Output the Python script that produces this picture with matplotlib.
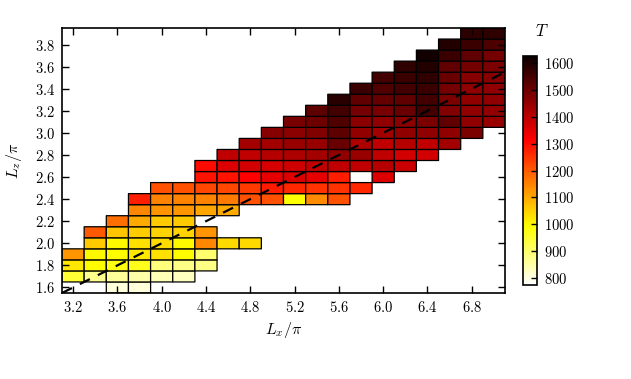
import numpy as np
import matplotlib
matplotlib.use("Agg")
import matplotlib.pyplot as plt
from matplotlib.ticker import FuncFormatter

plt.rcParams['mathtext.fontset'] = 'cm'
plt.rcParams['font.family'] = 'serif'
plt.rcParams['font.serif'] = ['DejaVu Serif']

N = np.nan

# cell centres
lx = [3.2, 3.4, 3.6, 3.8, 4.0, 4.2, 4.4, 4.6, 4.8, 5.0,
      5.2, 5.4, 5.6, 5.8, 6.0, 6.2, 6.4, 6.6, 6.8, 7.0]
lz = [1.6, 1.7, 1.8, 1.9, 2.0, 2.1, 2.2, 2.3, 2.4, 2.5, 2.6, 2.7,
      2.8, 2.9, 3.0, 3.1, 3.2, 3.3, 3.4, 3.5, 3.6, 3.7, 3.8, 3.9]

# T per row (bottom row first), one value per Lx column
T = [
    [N, N, 805, 805, N, N, N, N, N, N, N, N, N, N, N, N, N, N, N, N],
    [945, 872, 864, 850, 835, 830, N, N, N, N, N, N, N, N, N, N, N, N, N, N],
    [1023, 997, 980, 970, 885, 880, 880, N, N, N, N, N, N, N, N, N, N, N, N, N],
    [1124, 1000, 995, 1020, 1030, 995, 898, N, N, N, N, N, N, N, N, N, N, N, N, N],
    [N, 1060, 1000, 1030, 1035, 1000, 1145, 1040, 1040, N, N, N, N, N, N, N, N, N, N, N],
    [N, 1200, 1065, 1055, 1050, 1050, 1125, N, N, N, N, N, N, N, N, N, N, N, N, N],
    [N, N, 1175, 1100, 1060, 1060, N, N, N, N, N, N, N, N, N, N, N, N, N, N],
    [N, N, N, 1145, 1130, 1125, 1105, 1100, N, N, N, N, N, N, N, N, N, N, N, N],
    [N, N, N, 1275, 1150, 1150, 1150, 1160, 1213, 1213, 990, 1137, 1213, N, N, N, N, N, N, N],
    [N, N, N, N, 1213, 1213, 1225, 1225, 1240, 1280, 1265, 1252, 1252, 1264, N, N, N, N, N, N],
    [N, N, N, N, N, N, 1290, 1290, 1315, 1345, 1357, 1345, 1277, N, 1357, N, N, N, N, N],
    [N, N, N, N, N, N, 1302, 1357, 1370, 1365, 1375, 1394, 1394, 1394, 1406, 1382, N, N, N, N],
    [N, N, N, N, N, N, N, 1394, 1394, 1406, 1418, 1430, 1455, 1443, 1394, 1370, 1370, N, N, N],
    [N, N, N, N, N, N, N, N, 1430, 1430, 1443, 1443, 1503, 1418, 1394, 1406, 1394, 1430, N, N],
    [N, N, N, N, N, N, N, N, N, 1467, 1460, 1473, 1520, 1450, 1430, 1455, 1455, 1455, 1479, N],
    [N, N, N, N, N, N, N, N, N, N, 1485, 1497, 1534, 1461, 1455, 1461, 1479, 1515, 1455, 1443],
    [N, N, N, N, N, N, N, N, N, N, N, 1522, 1552, 1491, 1485, 1503, 1552, 1473, 1450, 1450],
    [N, N, N, N, N, N, N, N, N, N, N, N, 1588, 1515, 1509, 1515, 1552, 1479, 1455, 1455],
    [N, N, N, N, N, N, N, N, N, N, N, N, N, 1564, 1534, 1552, 1564, 1491, 1455, 1455],
    [N, N, N, N, N, N, N, N, N, N, N, N, N, N, 1552, 1564, 1576, 1503, 1467, 1467],
    [N, N, N, N, N, N, N, N, N, N, N, N, N, N, N, 1576, 1595, 1515, 1491, 1479],
    [N, N, N, N, N, N, N, N, N, N, N, N, N, N, N, N, 1613, 1564, 1515, 1491],
    [N, N, N, N, N, N, N, N, N, N, N, N, N, N, N, N, N, 1595, 1564, 1540],
    [N, N, N, N, N, N, N, N, N, N, N, N, N, N, N, N, N, N, 1576, 1576],
]

T = np.ma.masked_invalid(np.array(T, dtype=float))

fig = plt.figure(figsize=(6.31, 3.79), dpi=100)
ax = fig.add_axes([62/631, 86/379, 443/631, 265/379])
cax = fig.add_axes([523/631, 94/379, 14/631, 229/379])

# pcolor drops masked cells, so empty cells get no edges
mesh = ax.pcolor(lx, lz, T, shading='nearest', cmap='hot_r',
                 vmin=775, vmax=1625, edgecolors='k', linewidth=0.9)

# Lz = Lx/2 reference line
xl = np.array([3.1, 7.1])
ax.plot(xl, xl / 2, 'k--', lw=1.6, dashes=(5, 4))
ax.set_xlim(3.1, 7.1)
ax.set_ylim(1.55, 3.95)

fmt = FuncFormatter(lambda v, p: r'$%.1f$' % v)
ax.set_xticks(np.arange(3.2, 7.0, 0.4))
ax.set_yticks(np.arange(1.6, 3.85, 0.2))
ax.xaxis.set_major_formatter(fmt)
ax.yaxis.set_major_formatter(fmt)
ax.tick_params(direction='in', top=True, right=True, length=5, width=1,
               labelsize=10.5, pad=5)
for s in ax.spines.values():
    s.set_linewidth(1.2)

ax.set_xlabel(r'$L_x/\pi$', fontsize=11.5, labelpad=4)
ax.set_ylabel(r'$L_z/\pi$', fontsize=11.5, labelpad=8)

cb = fig.colorbar(mesh, cax=cax)
cb.set_ticks([800, 900, 1000, 1100, 1200, 1300, 1400, 1500, 1600])
cb.ax.yaxis.set_major_formatter(FuncFormatter(lambda v, p: r'$%d$' % v))
cb.ax.tick_params(direction='in', length=4, width=1, labelsize=10.5, pad=5)
cb.outline.set_linewidth(1.2)
fig.text(542/631, 1 - 31/379, r'$T$', fontsize=12, ha='center', va='center')

fig.savefig('out.png', dpi=100)
